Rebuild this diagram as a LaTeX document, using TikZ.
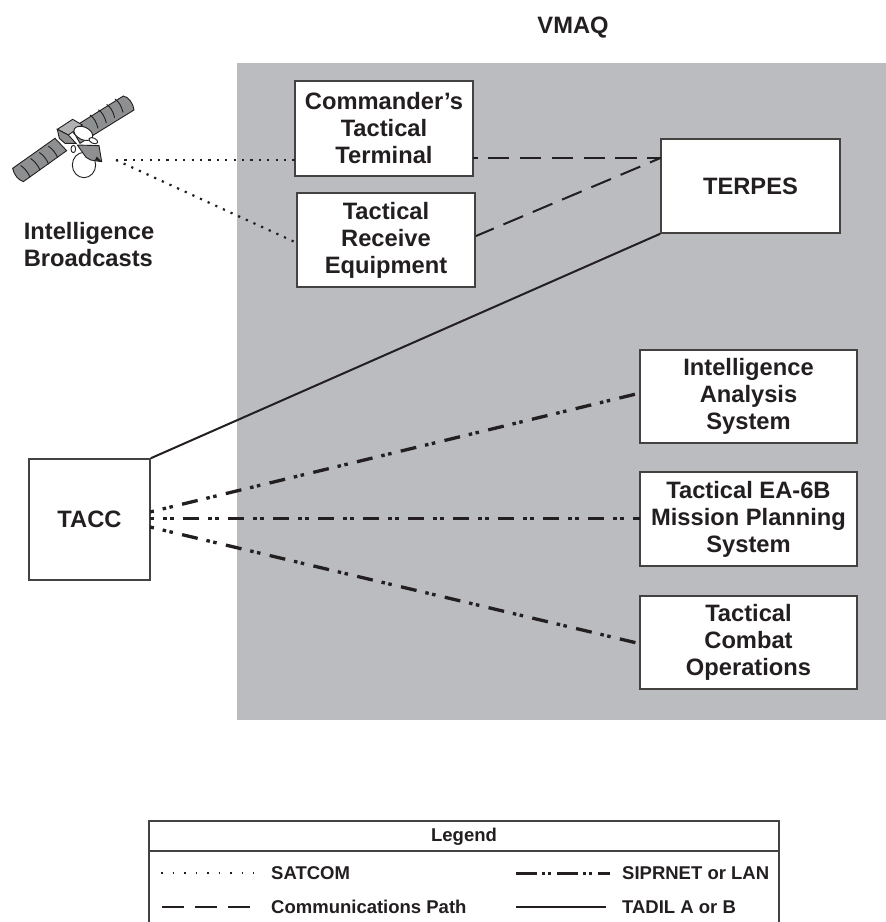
\documentclass[tikz,border=0pt]{standalone}
\usepackage{fontspec}
\setmainfont{Liberation Sans}
\definecolor{ink}{HTML}{231F20}
\definecolor{panelgray}{HTML}{BBBCC0}
\definecolor{satgray}{HTML}{8E8F91}
\tikzset{
  x=1pt,y=-1pt,
  boxnode/.style={draw=ink!85,line width=1.5pt,fill=white,align=center,inner sep=0pt,text=ink,
    font=\fontsize{23.7}{27}\selectfont\bfseries},
  freetext/.style={inner sep=0pt,text=ink,align=left,font=\fontsize{23.7}{27}\selectfont\bfseries},
  legtext/.style={inner sep=0pt,text=ink,anchor=west,font=\fontsize{18.5}{22}\selectfont\bfseries},
  satline/.style={ink,line width=2.2pt,dash pattern=on 2.2pt off 6.2pt},
  compath/.style={ink,line width=2pt,dash pattern=on 21.3pt off 10.5pt},
  tadil/.style={ink,line width=2pt},
  sipr/.style={ink,line width=3.3pt,dash pattern=on 16pt off 9pt on 3.5pt off 3.5pt on 3.5pt off 9.5pt,dash phase=12pt},
  legdash/.style={ink,line width=2pt,dash pattern=on 22pt off 11pt},
  legsat/.style={ink,line width=1.5pt,dash pattern=on 1.5pt off 10pt},
  legsipr/.style={ink,line width=3pt,dash pattern=on 21pt off 5pt on 3pt off 3pt on 3pt off 6pt},
  satpart/.style={draw=ink,line width=0.9pt,fill=satgray},
  satwhite/.style={draw=ink,line width=0.9pt,fill=white},
}
\begin{document}
\begin{tikzpicture}
\useasboundingbox (0,0) rectangle (886,922);
\fill[white] (0,0) rectangle (886,922);
\fill[panelgray] (237,63) rectangle (886,720);
\node[freetext] (vmaq) at (573,28) {VMAQ};
% boxes
\node[boxnode,minimum width=178pt,minimum height=95pt] (ctt) at (384,128.5) {Commander’s\\Tactical\\Terminal};
\node[boxnode,minimum width=178pt,minimum height=94pt] (tre) at (386,240) {Tactical\\Receive\\Equipment};
\node[boxnode,minimum width=179pt,minimum height=94pt] (terpes) at (750.5,186) {TERPES};
\node[boxnode,minimum width=217pt,minimum height=93pt] (ias) at (748.5,396.5) {Intelligence\\Analysis\\System};
\node[boxnode,minimum width=217pt,minimum height=94pt] (ea) at (748.5,519) {Tactical EA-6B\\Mission Planning\\System};
\node[boxnode,minimum width=217pt,minimum height=93pt] (tco) at (748.5,642.5) {Tactical\\Combat\\Operations};
\node[boxnode,minimum width=121pt,minimum height=121pt] (tacc) at (89.5,519.5) {TACC};
\node[freetext] (ib) at (89,245) {Intelligence\\Broadcasts};
% connector ends
\coordinate (satsrc) at (116,160);
\coordinate (cttin) at (295,160);
\coordinate (trein) at (297,243);
\coordinate (cttout) at (473,158);
\coordinate (treout) at (476,236);
\coordinate (terin) at (660.5,158);
\coordinate (taccA) at (150,512);
\coordinate (taccB) at (150,518.5);
\coordinate (taccC) at (150,527);
\coordinate (iasin) at (636,394);
\coordinate (eain) at (640,518.5);
\coordinate (tcoin) at (637,643);
% connectors
\draw[satline] (satsrc) -- (cttin);
\draw[satline] (satsrc) -- (trein);
\draw[compath,dash phase=16.7pt] (cttout) -- (terin);
\draw[compath,dash phase=2pt] (treout) -- (terin);
\draw[tadil] (tacc.north east) -- (terpes.south west);
\draw[sipr] (taccA) -- (iasin);
\draw[sipr] (taccB) -- (eain);
\draw[sipr] (taccC) -- (tcoin);
% satellite
\begin{scope}[x=0.33333pt,y=-0.33333pt,shift={(0,240)}]
  \draw[satpart] (38,265) -- (165,175) -- (200,212) -- (70,305) .. controls (55,300) and (42,285) .. (38,265) -- cycle;
  \draw[satpart] (215,145) -- (370,48) .. controls (385,50) and (400,70) .. (402,90) -- (240,190) -- cycle;
  \foreach \a in {62,92,118,145} \draw[ink,line width=0.9pt] (\a,\a*-0.7+300) .. controls (\a+12,\a*-0.7+308) and (\a+22,\a*-0.7+320) .. (\a+28,\a*-0.7+335);
  \foreach \a in {270,295,320,345} \draw[ink,line width=0.9pt] (\a,-0.64*\a+278) .. controls (\a+12,-0.64*\a+286) and (\a+20,-0.64*\a+300) .. (\a+24,-0.64*\a+318);
  \draw[satpart,fill=satgray!70] (172,148) -- (218,118) -- (247,135) -- (205,165) -- cycle;
  \draw[satpart] (172,148) -- (205,165) -- (228,190) -- (195,190) -- (178,175) -- cycle;
  \draw[satwhite] (252,255) ellipse [x radius=35,y radius=38];
  \draw[satpart] (232,195) -- (297,197) -- (305,245) -- (272,240) -- (258,232) -- cycle;
  \fill[ink] (290,230) -- (307,246) -- (285,240) -- cycle;
  \fill[ink] (218,158) -- (255,140) -- (235,175) -- cycle;
  \draw[satwhite,rotate around={-25:(250,160)}] (250,160) ellipse [x radius=30,y radius=19];
  \draw[satwhite,rotate around={-25:(280,182)}] (280,182) ellipse [x radius=14,y radius=8];
  \draw[satwhite] (220,207) ellipse [x radius=7,y radius=11];
\end{scope}
% legend
\draw[ink!85,line width=1.3pt] (149,922) -- (149,821) -- (779,821) -- (779,922);
\draw[ink!85,line width=1.3pt] (149,851) -- (779,851);
\node[inner sep=0pt,text=ink,font=\fontsize{18.5}{22}\selectfont\bfseries] (legtitle) at (464,837) {Legend};
\node[legtext] (l1) at (271,873) {SATCOM};
\node[legtext] (l2) at (271,907) {Communications Path};
\node[legtext] (l3) at (622,873) {SIPRNET or LAN};
\node[legtext] (l4) at (622,907) {TADIL A or B};
\coordinate (s1a) at (161,873); \coordinate (s1b) at (254,873);
\coordinate (s2a) at (162,907); \coordinate (s2b) at (252,907);
\coordinate (s3a) at (516,873); \coordinate (s3b) at (610,873);
\coordinate (s4a) at (516,907); \coordinate (s4b) at (606,907);
\draw[legsat] (s1a) -- (s1b);
\draw[legdash] (s2a) -- (s2b);
\draw[legsipr] (s3a) -- (s3b);
\draw[tadil] (s4a) -- (s4b);
\end{tikzpicture}
\end{document}
